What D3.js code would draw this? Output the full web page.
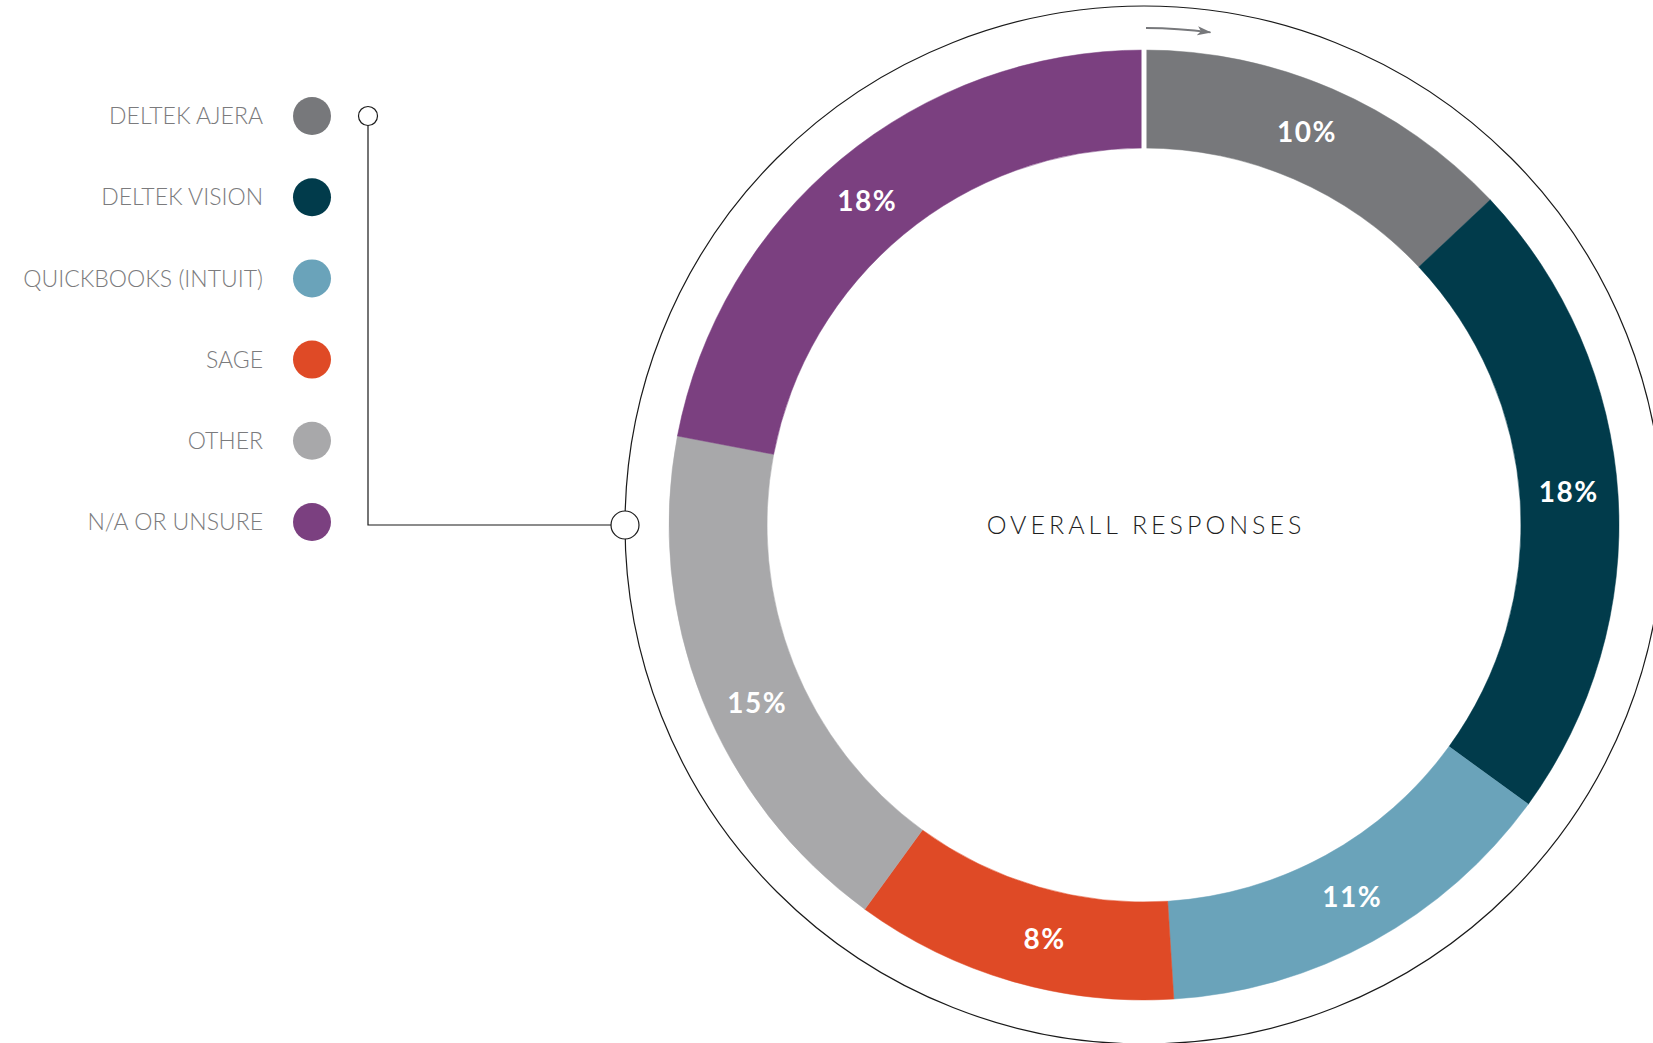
<!DOCTYPE html>
<html>
<head>
<meta charset="utf-8">
<script src="https://cdn.jsdelivr.net/npm/d3@7"></script>
<style>
html,body{margin:0;padding:0;background:#fff;}
svg{display:block;}
</style>
</head>
<body>
<svg id="chart" width="1653" height="1043"></svg>
<script>
const categories = ["DELTEK AJERA","DELTEK VISION","QUICKBOOKS (INTUIT)","SAGE","OTHER","N/A OR UNSURE"];
// printed percentages
const labelValues = [10, 18, 11, 8, 15, 18];
// arc shares as drawn in the picture (percent of the ring)
const arcShares = [13, 22, 14, 11, 18, 22];
const colors = ["#77787b","#013b4b","#6aa3ba","#df4a26","#a8a8aa","#7b4080"];
const centerTitle = "OVERALL RESPONSES";

const W = 1653, H = 1043;
const cx = 1144, cy = 525;
const rOuter = 475, rInner = 377, rRing = 519;

const svg = d3.select("#chart");

// outer thin circle
svg.append("circle").attr("cx", cx).attr("cy", cy).attr("r", rRing)
  .attr("fill","none").attr("stroke","#1a1a1a").attr("stroke-width",1.2);

const g = svg.append("g").attr("transform", `translate(${cx},${cy})`);
const pie = d3.pie().sort(null).value(d => d);
const arcs = pie(arcShares);
const labelArcs = pie(labelValues);
const arc = d3.arc().innerRadius(rInner).outerRadius(rOuter);

g.selectAll("path.slice").data(arcs).enter().append("path")
  .attr("class","slice")
  .attr("d", arc)
  .attr("fill", (d,i) => colors[i])
  .attr("stroke", (d,i) => colors[i])
  .attr("stroke-width", 0.5);

// white separator at start
g.append("line").attr("x1",0).attr("x2",0).attr("y1",-rInner+1).attr("y2",-rOuter-1)
  .attr("stroke","#fff").attr("stroke-width",5);

// percentage labels
g.selectAll("text.pct").data(labelArcs).enter().append("text")
  .attr("class","pct")
  .attr("transform", d => `translate(${arc.centroid(d)})`)
  .attr("text-anchor","middle")
  .attr("dy","0.36em")
  .attr("fill","#fff")
  .style("font-family","Lato, 'Open Sans', sans-serif")
  .style("font-weight","700")
  .style("font-size","28px")
  .style("letter-spacing","1.5px")
  .text(d => d.data + "%");

// center title
g.append("text").attr("text-anchor","middle").attr("dy","0.36em")
  .attr("x", 2)
  .attr("fill","#1e1e1e")
  .style("font-family","Lato, sans-serif")
  .style("font-weight","300")
  .style("font-size","25px")
  .style("letter-spacing","4px")
  .text(centerTitle);

// direction arrow along the top
const defs = svg.append("defs");
defs.append("marker").attr("id","ah").attr("viewBox","0 0 14 10")
  .attr("refX",13).attr("refY",5).attr("markerWidth",14).attr("markerHeight",10)
  .attr("orient","auto").attr("markerUnits","userSpaceOnUse")
  .append("path").attr("d","M0,0.5 L14,5 L0,9.5 L3.5,5 Z").attr("fill","#77787b");
const arrowPath = d3.path();
arrowPath.arc(0, 0, 497, -Math.PI/2 + 0.004, -Math.PI/2 + 0.134);
g.append("path").attr("d", arrowPath.toString())
  .attr("fill","none").attr("stroke","#77787b").attr("stroke-width",1.8)
  .attr("marker-end","url(#ah)");

// legend
const y = d3.scalePoint().domain(categories).range([116, 522]);
const leg = svg.append("g");
leg.selectAll("circle.dot").data(categories).enter().append("circle")
  .attr("class","dot").attr("cx",312).attr("cy", d => y(d)).attr("r",19)
  .attr("fill", (d,i) => colors[i]);
leg.selectAll("text.lab").data(categories).enter().append("text")
  .attr("class","lab").attr("x",263).attr("y", d => y(d)).attr("dy","0.36em")
  .attr("text-anchor","end").attr("fill","#7b7b7d")
  .style("font-family","Lato, sans-serif").style("font-weight","300")
  .style("font-size","23px")
  .text(d => d);

// connector
const connX = 368;
svg.append("path")
  .attr("d", `M${connX},${y(categories[0])} V${cy} H${cx - rRing}`)
  .attr("fill","none").attr("stroke","#1a1a1a").attr("stroke-width",1.2);
svg.append("circle").attr("cx",connX).attr("cy",y(categories[0])).attr("r",9.5)
  .attr("fill","#fff").attr("stroke","#1a1a1a").attr("stroke-width",1.2);
svg.append("circle").attr("cx",cx - rRing).attr("cy",cy).attr("r",14)
  .attr("fill","#fff").attr("stroke","#1a1a1a").attr("stroke-width",1.2);
</script>
</body>
</html>
